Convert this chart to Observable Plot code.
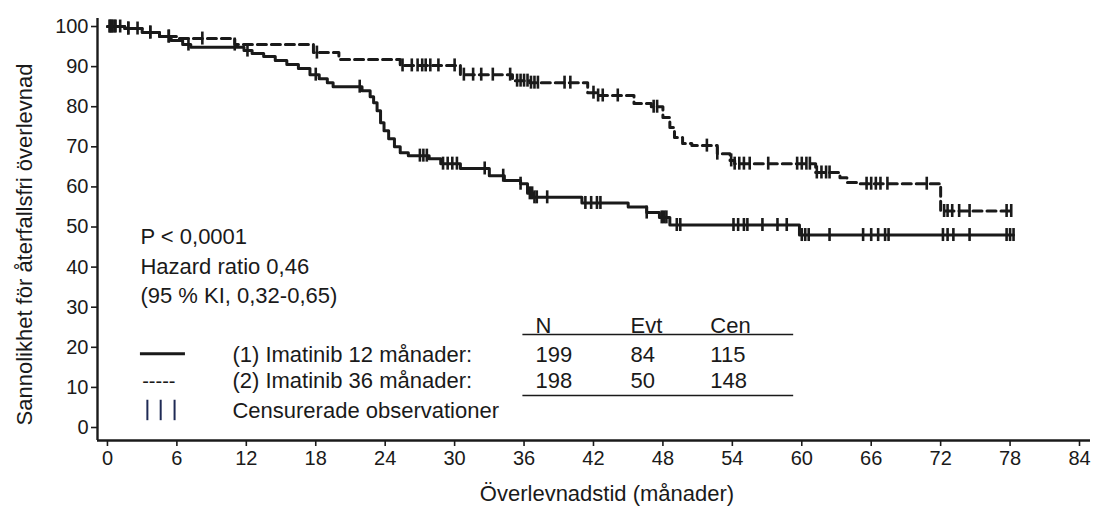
<!DOCTYPE html>
<html>
<head>
<meta charset="utf-8">
<script src="https://cdn.jsdelivr.net/npm/d3@7"></script>
<script src="https://cdn.jsdelivr.net/npm/@observablehq/plot@0.6"></script>
<style>
  html, body { margin: 0; padding: 0; background: #fff; }
  #chart svg { display: block; }
</style>
</head>
<body>
<div id="chart"></div>
<script>
// ---- Data ----
// Group 1: Imatinib 12 månader (solid) — Kaplan–Meier steps (time in months, survival %)
const solidT = [0, 1.5, 3, 4.5, 5.5, 6.5, 7.2, 11.8, 12.5, 13.5, 14.5, 15.5, 16.5, 17.5, 18.3, 19, 19.5, 22, 22.7, 23, 23.3, 23.6, 23.9, 24.3, 24.8, 25.3, 26, 27.8, 28.8, 30.5, 33, 34.3, 35.7, 36.3, 36.8, 41, 45, 46.6, 47.7, 48.6, 59.8, 78.3];
const solidV = [100, 99.5, 98.5, 97.5, 96.5, 95.5, 94.8, 94, 93.3, 92.5, 91.5, 90.5, 89.5, 88, 87, 86, 85, 84, 82.5, 81, 79, 76, 74, 72, 70, 68.5, 67.8, 67, 65.8, 64.6, 62.8, 61.6, 60.8, 58.4, 57.4, 56, 55, 53.6, 52.4, 50.5, 48, 48];
// Group 2: Imatinib 36 månader (dashed)
const dashedT = [0, 1.5, 3, 4.5, 6, 11, 17.8, 20, 25.3, 30.5, 35, 36.5, 41.5, 42.3, 45.5, 47, 48, 48.6, 49, 49.7, 50.5, 52.7, 53.8, 54.2, 61.2, 63.3, 63.9, 65, 72, 78.2];
const dashedV = [100, 99.5, 98.5, 97.5, 97, 95.5, 93.5, 91.8, 90.3, 88, 86.5, 86, 83.5, 82.8, 80.8, 80, 77.3, 74.8, 72.3, 70.8, 70.3, 68.3, 66.6, 65.8, 63.6, 62.3, 61.1, 60.8, 54, 54];
// Censored observation times (months)
const solidCens = [0.2, 0.4, 0.6, 1.1, 1.8, 2.6, 3.7, 5.3, 7, 12.1, 18, 21.8, 27, 27.3, 27.6, 29, 29.4, 29.8, 30.2, 32.6, 34.2, 35.7, 36.5, 36.7, 36.9, 37.1, 38, 41.3, 41.8, 42.3, 42.6, 46.6, 47.9, 48.1, 48.3, 49.2, 49.5, 54.1, 54.5, 55, 55.3, 56.6, 57.9, 58.7, 60, 60.3, 60.6, 62.4, 65.3, 66, 66.6, 67.2, 67.5, 72.2, 72.6, 73.1, 74.5, 77.7, 78, 78.3];
const dashedCens = [0.2, 0.4, 0.7, 1.8, 3.7, 5.3, 8.2, 11, 18.1, 25.5, 26.3, 26.8, 27.2, 27.5, 27.9, 28.6, 30, 30.8, 31.6, 32.3, 33.3, 34.8, 35.4, 35.7, 36, 36.3, 36.6, 36.9, 37.2, 39.5, 40, 42, 42.4, 42.8, 44.1, 47.2, 47.5, 51.8, 52.7, 53.9, 54.2, 54.6, 55, 55.5, 57.1, 59.6, 60, 60.4, 60.7, 61.3, 61.7, 62.1, 62.4, 65.6, 66, 66.4, 66.8, 67.4, 70.8, 72.3, 72.6, 73, 73.6, 74.5, 77.7, 78.1];

// Axis ticks and labels
const xTicks = [0, 6, 12, 18, 24, 30, 36, 42, 48, 54, 60, 66, 72, 78, 84];
const yTicks = [0, 10, 20, 30, 40, 50, 60, 70, 80, 90, 100];
const xLabel = "Överlevnadstid (månader)";
const yLabel = "Sannolikhet för återfallsfri överlevnad";

// Statistics text
const statLines = ["P < 0,0001", "Hazard ratio 0,46", "(95 % KI, 0,32-0,65)"];
const tableHeader = ["N", "Evt", "Cen"];
const groupNames = ["(1) Imatinib 12 månader:", "(2) Imatinib 36 månader:"];
const groupN = [199, 198];
const groupEvt = [84, 50];
const groupCen = [115, 148];
const censLabel = "Censurerade observationer";

// ---- Build tables ----
const solidSteps = solidT.map((t, i) => ({t, v: solidV[i]}));
const dashedSteps = dashedT.map((t, i) => ({t, v: dashedV[i]}));
function stepAt(T, V, t) {
  let v = V[0];
  for (let i = 0; i < T.length; i++) if (T[i] <= t) v = V[i];
  return v;
}
const solidCensPts = solidCens.map(t => ({t, v: stepAt(solidT, solidV, t)}));
const dashedCensPts = dashedCens.map(t => ({t, v: stepAt(dashedT, dashedV, t)}));

// annotation anchors (in data units: months, %)
const statX = 2.85, statY = [47.4, 40.1, 32.7];
const colX = [37, 45.2, 52.1];
const nameX = 10.8;
const headY = 25.4, rowY = [18.2, 11.5], censRowY = 4.2;
const tableX1 = 35.9, tableX2 = 59.3, ruleTopY = 23.2, ruleBotY = 8.0;

const statText = statLines.map((s, i) => ({x: statX, y: statY[i], s}));
const headText = tableHeader.map((s, i) => ({x: colX[i], y: headY, s}));
const rowText = [];
groupNames.forEach((g, i) => {
  rowText.push({x: nameX, y: rowY[i], s: g});
  rowText.push({x: colX[0], y: rowY[i], s: String(groupN[i])});
  rowText.push({x: colX[1], y: rowY[i], s: String(groupEvt[i])});
  rowText.push({x: colX[2], y: rowY[i], s: String(groupCen[i])});
});
rowText.push({x: nameX, y: censRowY, s: censLabel});
const tableRules = [{y: ruleTopY}, {y: ruleBotY}];
const legendSolid = [{x1: 2.85, x2: 6.74, y: 18.4}];
const legendDash = [{x: 3.0, y: 11.5, s: "-----"}];
const legendBars = [{x: 3.45}, {x: 4.6}, {x: 5.8}];

const xDomain = [-0.86, 84.95];
const yDomain = [-3.24, 102];
const font = "'Liberation Sans', Arial, Helvetica, sans-serif";
const ink = "#1a1a1a";

const chart = Plot.plot({
  width: 1097,
  height: 507,
  marginLeft: 97,
  marginRight: 7,
  marginTop: 18,
  marginBottom: 67,
  x: {domain: xDomain, label: null},
  y: {domain: yDomain, label: null},
  style: {fontFamily: font, fontSize: "20px", color: ink, background: "#fff"},
  marks: [
    Plot.axisX({ticks: xTicks, tickSize: 6, tickPadding: 4, fontSize: 20, label: null, strokeWidth: 1.6}),
    Plot.axisY({ticks: yTicks, tickSize: 6, tickPadding: 3, fontSize: 20, label: null, strokeWidth: 1.6}),
    Plot.ruleX([xDomain[0]], {stroke: ink, strokeWidth: 2.4}),
    Plot.ruleY([yDomain[0]], {stroke: ink, strokeWidth: 2.4}),
    // curves
    Plot.line(solidSteps, {x: "t", y: "v", curve: "step-after", stroke: ink, strokeWidth: 3}),
    Plot.line(dashedSteps, {x: "t", y: "v", curve: "step-after", stroke: ink, strokeWidth: 3, strokeDasharray: "9,5"}),
    // censor ticks
    Plot.ruleX(solidCensPts, {x: "t", y1: "v", y2: "v", insetTop: -6.5, insetBottom: -6.5, stroke: ink, strokeWidth: 2.6}),
    Plot.ruleX(dashedCensPts, {x: "t", y1: "v", y2: "v", insetTop: -6.5, insetBottom: -6.5, stroke: ink, strokeWidth: 2.6}),
    // stats
    Plot.text(statText, {x: "x", y: "y", text: "s", textAnchor: "start", fontSize: 22, fill: ink}),
    Plot.text(headText, {x: "x", y: "y", text: "s", textAnchor: "start", fontSize: 22, fill: ink}),
    Plot.text(rowText, {x: "x", y: "y", text: "s", textAnchor: "start", fontSize: 22, fill: ink}),
    Plot.ruleY(tableRules, {y: "y", x1: tableX1, x2: tableX2, stroke: ink, strokeWidth: 1.6}),
    // legend symbols
    Plot.ruleY(legendSolid, {y: "y", x1: "x1", x2: "x2", stroke: ink, strokeWidth: 3}),
    Plot.text(legendDash, {x: "x", y: "y", text: "s", textAnchor: "start", fontSize: 20, fill: ink}),
    Plot.ruleX(legendBars, {x: "x", y1: 1.7, y2: 6.8, stroke: "#1f2a55", strokeWidth: 2}),
    // axis titles
    Plot.text([xLabel], {frameAnchor: "bottom", dx: 13, dy: 60, fontSize: 22, fill: ink}),
    Plot.text([yLabel], {frameAnchor: "left", textAnchor: "middle", rotate: -90, dx: -73, dy: 15, fontSize: 22, fill: ink})
  ]
});
document.getElementById("chart").appendChild(chart);
</script>
</body>
</html>
